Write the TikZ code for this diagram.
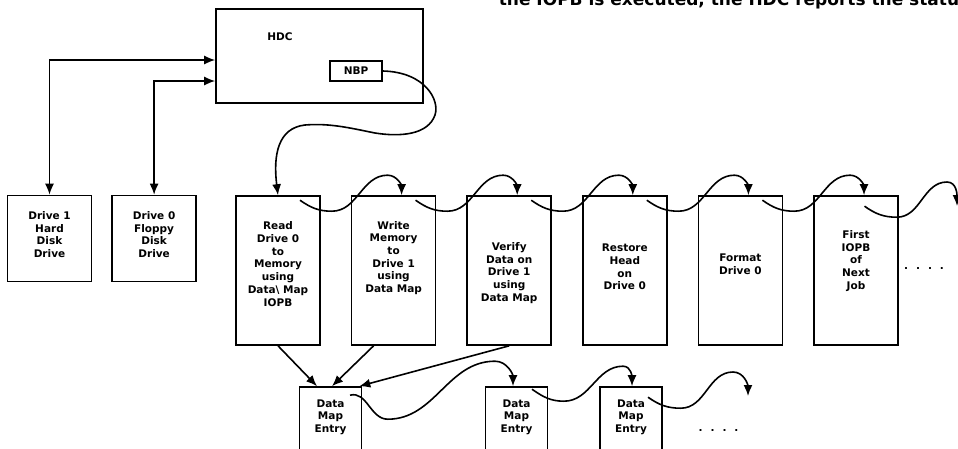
\documentclass[tikz,border=0pt]{standalone}
\usepackage{fontspec}
\setmainfont{DejaVu Sans}
\usetikzlibrary{arrows.meta, positioning}

\begin{document}
\begin{tikzpicture}[x=1pt, y=1pt, line width=1.6pt, >={Latex[length=11pt,width=9pt]},
    box/.style={draw, rectangle, inner sep=0pt},
    iopb/.style={box, minimum width=84, minimum height=149},
    drive/.style={box, minimum width=84, minimum height=86},
    mapbox/.style={box, minimum width=62, minimum height=90},
    lbl/.style={align=center, inner sep=0pt, font=\fontsize{10.5}{12.7}\selectfont\bfseries}]
    \useasboundingbox (0,0) rectangle (958,-448);
    \clip (0,0) rectangle (958,-448);

    % text of the page, cut off at the top
    \node (PageText) [anchor=base west, inner sep=0pt, font=\fontsize{17}{20}\selectfont\bfseries] at (498,-5) {the IOPB is executed, the HDC reports the status};

    % controller and drives
    \node (HDC) [box, minimum width=207, minimum height=94] at (319.5,-56) {};
    \node (HDCText) [lbl] at (280,-37) {HDC};
    \node (NBP) [box, lbl, minimum width=52, minimum height=20] at (356,-71) {NBP};

    \node (DriveOne) [drive] at (49.5,-238.5) {};
    \node (DriveZero) [drive, right=19pt of DriveOne] {};
    \node (DriveOneText) [lbl] at ([yshift=4]DriveOne.center) {Drive 1\\Hard\\Disk\\Drive};
    \node (DriveZeroText) [lbl] at ([yshift=4]DriveZero.center) {Drive 0\\Floppy\\Disk\\Drive};

    % IOPB chain
    \node (Read) [iopb] at (278,-270.5) {};
    \node (Write) [iopb, right=30pt of Read] {};
    \node (Verify) [iopb, right=30pt of Write] {};
    \node (Restore) [iopb, right=30pt of Verify] {};
    \node (Format) [iopb, right=30pt of Restore] {};
    \node (FirstIOPB) [iopb, right=30pt of Format] {};

    \node (ReadText) [lbl] at ([yshift=6.5]Read.center) {Read\\Drive 0\\to\\Memory\\using\\Data\textbackslash\ Map\\IOPB};
    \node (WriteText) [lbl] at ([yshift=12.5]Write.center) {Write\\Memory\\to\\Drive 1\\using\\Data Map};
    \node (VerifyText) [lbl] at ([yshift=-2.5]Verify.center) {Verify\\Data on\\Drive 1\\using\\Data Map};
    \node (RestoreText) [lbl] at ([yshift=3.5]Restore.center) {Restore\\Head\\on\\Drive 0};
    \node (FormatText) [lbl] at ([yshift=6.5]Format.center) {Format\\Drive 0};
    \node (FirstText) [lbl] at ([yshift=9.5]FirstIOPB.center) {First\\IOPB\\of\\Next\\Job};
    \node (MoreIOPBs) [lbl] at (924,-269) {.\hspace{8pt}.\hspace{8pt}.\hspace{8pt}.};

    % data map entries
    \node (MapA) [mapbox] at (330.5,-432) {};
    \node (MapB) [mapbox] at (516.5,-432) {};
    \node (MapC) [mapbox] at (631,-432) {};
    \node (MapAText) [lbl] at ([yshift=-31]MapA.north) {Data\\Map\\Entry};
    \node (MapBText) [lbl] at ([yshift=-31]MapB.north) {Data\\Map\\Entry};
    \node (MapCText) [lbl] at ([yshift=-31]MapC.north) {Data\\Map\\Entry};
    \node (MoreEntries) [lbl] at (718.5,-430) {.\hspace{8pt}.\hspace{8pt}.\hspace{8pt}.};

    \coordinate (NextJobIn) at (957,-206);
    \coordinate (NextEntryIn) at (748,-396);

    \draw[<->] (DriveOne.north) |- ([yshift=-4]HDC.west);
    \draw[<->] (DriveZero.north) |- ([yshift=-25]HDC.west);
    \draw[->] (NBP.east) .. controls (425,-72) and (440,-100) .. (435,-115)
        .. controls (428,-135) and (400,-137) .. (375,-133)
        .. controls (350,-128) and (330,-123) .. (305,-125)
        .. controls (278,-128) and (273,-155) .. (Read.north);

    \foreach \cur/\nxt in {Read/Write, Write/Verify, Verify/Restore, Restore/Format, Format/FirstIOPB}
        \draw[->] ([xshift=22,yshift=-5]\cur.north) to[out=-35,in=180] ([xshift=11,yshift=-16]\cur.north east)
            to[out=0,in=180] ([xshift=-6,yshift=20]\nxt.north) to[out=0,in=90] ([xshift=8]\nxt.north);
    \draw[->] ([xshift=8.5,yshift=-11]FirstIOPB.north) to[out=-35,in=180] ([xshift=-2,yshift=-22]FirstIOPB.north east)
        to[out=0,in=180] (947,-182) to[out=0,in=90] (NextJobIn);

    \draw[->] (Read.south) -- ([xshift=-13.5]MapA.north);
    \draw[->] ([xshift=-20]Write.south) -- ([xshift=1.5]MapA.north);
    \draw[->] (Verify.south) -- ([xshift=-3]MapA.north east);

    \draw[->] ([xshift=19.5,yshift=-9]MapA.north) to[out=15,in=180] ([xshift=25.5,yshift=-33]MapA.north east)
        to[out=0,in=180] ([xshift=-21.5,yshift=25]MapB.north) to[out=0,in=90] ([xshift=-3.5]MapB.north);
    \draw[->] ([xshift=15.5,yshift=-3]MapB.north) to[out=-35,in=180] ([xshift=15.5,yshift=-15]MapB.north east)
        to[out=0,in=180] ([xshift=-8,yshift=20]MapC.north) to[out=0,in=90] ([xshift=1]MapC.north);
    \draw[->] ([xshift=17,yshift=-11]MapC.north) to[out=-35,in=180] ([xshift=18,yshift=-22]MapC.north east)
        to[out=0,in=180] (733,-372) to[out=0,in=90] (NextEntryIn);
\end{tikzpicture}
\end{document}
